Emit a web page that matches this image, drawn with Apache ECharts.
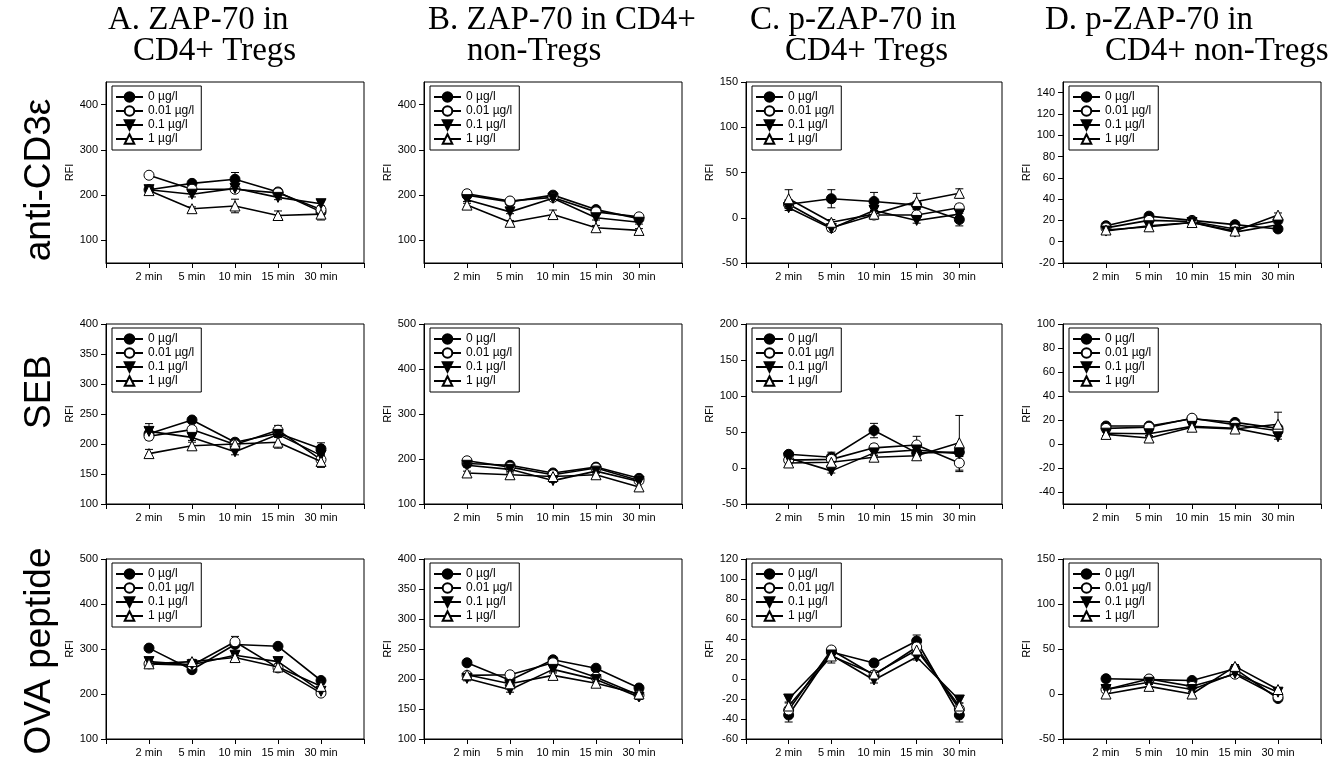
<!DOCTYPE html>
<html><head><meta charset="utf-8">
<script src="https://cdn.jsdelivr.net/npm/echarts@6/dist/echarts.min.js"></script>
<style>html,body{margin:0;padding:0;background:#fff}#c{width:1335px;height:763px}</style>
</head><body><div id="c"></div>
<script>
// ---------- DATA ----------
const timePoints = ['2 min', '5 min', '10 min', '15 min', '30 min'];
const doseNames = ['0 µg/l', '0.01 µg/l', '0.1 µg/l', '1 µg/l'];
const columnTitles = [['A. ZAP-70 in', 'CD4+ Tregs'], ['B. ZAP-70 in CD4+', 'non-Tregs'], ['C. p-ZAP-70 in', 'CD4+ Tregs'], ['D. p-ZAP-70 in', 'CD4+ non-Tregs']];
const rowTitles = ['anti-CD3ε', 'SEB', 'OVA peptide'];

// values: one row per dose (0, 0.01, 0.1, 1 µg/l), one column per time point
const A1_vals = [[212, 226, 235, 207, 163], [244, 213, 213, 205, 168], [212, 202, 215, 195, 181], [210, 170, 176, 155, 158]];
const A1_errs = [[5, 5, 15, 6, 6], [4, 5, 6, 5, 8], [5, 6, 6, 5, 5], [5, 4, 15, 10, 13]];
const B1_vals = [[200, 185, 200, 168, 148], [203, 187, 195, 163, 152], [190, 163, 193, 150, 140], [178, 140, 157, 128, 122]];
const B1_errs = [[4, 4, 5, 5, 5], [4, 3, 4, 5, 4], [4, 4, 4, 5, 4], [4, 4, 10, 5, 4]];
const C1_vals = [[15, 21, 18, 14, -2], [15, -11, 3, 3, 11], [11, -12, 8, -3, 4], [21, -5, 4, 18, 27]];
const C1_errs = [[5, 10, 10, 4, 7], [4, 3, 5, 3, 4], [3, 3, 3, 3, 3], [10, 3, 3, 9, 5]];
const D1_vals = [[15, 24, 20, 16, 12], [13, 20, 19, 12, 20], [10, 15, 18, 9, 16], [11, 14, 18, 10, 25]];
const D1_errs = [[2, 2, 2, 2, 2], [2, 2, 2, 2, 2], [2, 2, 2, 2, 2], [2, 2, 2, 2, 2]];

const A2_vals = [[217, 240, 203, 218, 192], [213, 224, 199, 223, 174], [221, 211, 187, 216, 181], [184, 197, 200, 203, 171]];
const A2_errs = [[5, 4, 5, 4, 10], [6, 5, 4, 8, 5], [13, 5, 5, 5, 6], [7, 6, 4, 10, 10]];
const B2_vals = [[190, 186, 169, 182, 157], [196, 182, 165, 180, 152], [186, 177, 152, 173, 150], [169, 165, 161, 165, 138]];
const B2_errs = [[4, 4, 4, 4, 4], [4, 4, 4, 4, 4], [4, 4, 4, 4, 4], [4, 4, 4, 4, 8]];
const C2_vals = [[19, 15, 52, 21, 22], [11, 12, 28, 32, 7], [14, -4, 21, 25, 20], [7, 8, 15, 17, 35]];
const C2_errs = [[4, 7, 10, 5, 5], [3, 4, 5, 12, 12], [3, 3, 4, 4, 4], [3, 3, 3, 3, 38]];
const D2_vals = [[15, 15, 21, 18, 13], [13, 14, 21.5, 16, 11], [9, 8.5, 14.7, 13, 6], [8, 5, 14, 12.5, 16.5]];
const D2_errs = [[2, 2, 2, 2, 2], [2, 2, 2, 2, 2], [2, 2, 2, 2, 2], [2, 2, 2, 2, 10]];

const A3_vals = [[302, 254, 310, 306, 230], [267, 264, 316, 258, 202], [272, 265, 286, 272, 206], [267, 272, 281, 260, 217]];
const A3_errs = [[5, 5, 5, 5, 5], [5, 5, 12, 5, 5], [5, 5, 5, 5, 5], [5, 5, 8, 5, 5]];
const B3_vals = [[227, 198, 232, 218, 185], [206, 207, 227, 203, 173], [201, 182, 216, 199, 170], [207, 192, 206, 193, 175]];
const B3_errs = [[4, 4, 4, 4, 4], [4, 4, 4, 4, 4], [4, 4, 4, 4, 4], [4, 4, 4, 4, 4]];
const C3_vals = [[-36, 27, 16, 38, -36], [-31, 29, 4, 32, -30], [-20, 24, -1, 22, -21], [-27, 23, 5, 29, -27]];
const C3_errs = [[7, 3, 3, 6, 7], [3, 3, 3, 3, 3], [3, 3, 3, 3, 3], [3, 7, 3, 3, 3]];
const D3_vals = [[17, 16, 15, 28, -5], [5, 16.7, 8.5, 22, -3], [5, 13, 5, 23, 2], [0, 8.5, 0, 30.7, 5]];
const D3_errs = [[2, 2, 2, 2, 2], [2, 2, 2, 2, 2], [2, 2, 2, 2, 2], [2, 2, 2, 2, 2]];

// y-axis tick labels per panel
const A1_ticks = [100, 200, 300, 400];
const B1_ticks = [100, 200, 300, 400];
const C1_ticks = [-50, 0, 50, 100, 150];
const D1_ticks = [-20, 0, 20, 40, 60, 80, 100, 120, 140];
const A2_ticks = [100, 150, 200, 250, 300, 350, 400];
const B2_ticks = [100, 200, 300, 400, 500];
const C2_ticks = [-50, 0, 50, 100, 150, 200];
const D2_ticks = [-40, -20, 0, 20, 40, 60, 80, 100];
const A3_ticks = [100, 200, 300, 400, 500];
const B3_ticks = [100, 150, 200, 250, 300, 350, 400];
const C3_ticks = [-60, -40, -20, 0, 20, 40, 60, 80, 100, 120];
const D3_ticks = [-50, 0, 50, 100, 150];

// ---------- LAYOUT ----------
const colLeft = [106, 424, 746, 1063];
const colWidth = [258, 258, 256, 258];
const rowTop = [82, 324, 559];
const rowHeight = [181, 180, 180];
const panels = [
  { r: 0, c: 0, v: A1_vals, e: A1_errs, t: A1_ticks, min: 50, max: 450 },
  { r: 0, c: 1, v: B1_vals, e: B1_errs, t: B1_ticks, min: 50, max: 450 },
  { r: 0, c: 2, v: C1_vals, e: C1_errs, t: C1_ticks, min: -50, max: 150 },
  { r: 0, c: 3, v: D1_vals, e: D1_errs, t: D1_ticks, min: -20, max: 150 },
  { r: 1, c: 0, v: A2_vals, e: A2_errs, t: A2_ticks, min: 100, max: 400 },
  { r: 1, c: 1, v: B2_vals, e: B2_errs, t: B2_ticks, min: 100, max: 500 },
  { r: 1, c: 2, v: C2_vals, e: C2_errs, t: C2_ticks, min: -50, max: 200 },
  { r: 1, c: 3, v: D2_vals, e: D2_errs, t: D2_ticks, min: -50, max: 100 },
  { r: 2, c: 0, v: A3_vals, e: A3_errs, t: A3_ticks, min: 100, max: 500 },
  { r: 2, c: 1, v: B3_vals, e: B3_errs, t: B3_ticks, min: 100, max: 400 },
  { r: 2, c: 2, v: C3_vals, e: C3_errs, t: C3_ticks, min: -60, max: 120 },
  { r: 2, c: 3, v: D3_vals, e: D3_errs, t: D3_ticks, min: -50, max: 150 }
];

const FONT = 'Liberation Sans, Arial, sans-serif';
const downTri = 'path://M0,0L10,0L5,9Z';
const doseStyles = [
  { symbol: 'circle', itemStyle: { color: '#000', borderColor: '#000', borderWidth: 1 } },
  { symbol: 'circle', itemStyle: { color: '#fff', borderColor: '#000', borderWidth: 1 } },
  { symbol: downTri, itemStyle: { color: '#000', borderColor: '#000', borderWidth: 1 } },
  { symbol: 'triangle', itemStyle: { color: '#fff', borderColor: '#000', borderWidth: 1 } }
];

const grids = [], xAxes = [], yAxes = [], series = [], legends = [], graphics = [];

function errRender(params, api) {
  const x = api.value(0), lo = api.value(1), hi = api.value(2);
  const p1 = api.coord([x, hi]), p2 = api.coord([x, lo]);
  const w = 4;
  const st = { stroke: '#000', lineWidth: 1 };
  return { type: 'group', children: [
    { type: 'line', shape: { x1: p1[0], y1: p1[1], x2: p2[0], y2: p2[1] }, style: st },
    { type: 'line', shape: { x1: p1[0] - w, y1: p1[1], x2: p1[0] + w, y2: p1[1] }, style: st },
    { type: 'line', shape: { x1: p2[0] - w, y1: p2[1], x2: p2[0] + w, y2: p2[1] }, style: st }
  ] };
}

panels.forEach((p, i) => {
  const left = colLeft[p.c], top = rowTop[p.r], w = colWidth[p.c], h = rowHeight[p.r];
  grids.push({ left: left, top: top, width: w, height: h, show: true, borderColor: '#000', borderWidth: 1, backgroundColor: 'transparent' });
  xAxes.push({
    type: 'value', gridIndex: i, min: 0, max: 6, interval: 1,
    axisLine: { show: true, onZero: false, lineStyle: { color: '#000', width: 1 } },
    axisTick: { show: true, inside: false, length: 5, lineStyle: { color: '#000' } },
    axisLabel: { margin: 8, color: '#000', fontSize: 11, fontFamily: FONT, formatter: v => timePoints[v - 1] || '' },
    splitLine: { show: false }
  });
  yAxes.push({
    type: 'value', gridIndex: i, min: p.min, max: p.max,
    name: 'RFI', nameLocation: 'middle', nameGap: 31, nameRotate: 90,
    nameTextStyle: { fontSize: 11, color: '#000', fontFamily: FONT },
    axisLine: { show: true, onZero: false, lineStyle: { color: '#000', width: 1 } },
    axisTick: { show: true, inside: false, length: 5, customValues: p.t, lineStyle: { color: '#000' } },
    axisLabel: { margin: 8, color: '#000', fontSize: 11, fontFamily: FONT, customValues: p.t },
    splitLine: { show: false }
  });
  p.v.forEach((vals, k) => {
    series.push({
      type: 'custom', xAxisIndex: i, yAxisIndex: i, silent: true, z: 2,
      renderItem: errRender, encode: { x: 0, y: [1, 2] },
      data: vals.map((v, j) => [j + 1, v - p.e[k][j], v + p.e[k][j]])
    });
  });
  p.v.forEach((vals, k) => {
    series.push({
      type: 'line', name: doseNames[k], xAxisIndex: i, yAxisIndex: i, z: 3 + k,
      symbol: doseStyles[k].symbol, symbolSize: 10,
      lineStyle: { color: '#000', width: 1.6 },
      itemStyle: doseStyles[k].itemStyle,
      data: vals.map((v, j) => [j + 1, v])
    });
  });
  legends.push({
    orient: 'vertical', left: left + 6, top: top + 4, data: doseNames, selectedMode: false,
    itemWidth: 27, itemHeight: 12, itemGap: 2, padding: [5, 7, 5, 3],
    borderColor: '#000', borderWidth: 1, backgroundColor: '#fff',
    textStyle: { fontSize: 12, color: '#000', fontFamily: FONT }
  });
});

// column titles
const titleLine1X = [108, 428, 750, 1045];
const titleLine2X = [133, 467, 785, 1105];
const TFONT = '33px "Liberation Serif", "Times New Roman", serif';
columnTitles.forEach((t, c) => {
  graphics.push({ type: 'text', x: titleLine1X[c], y: 20, style: { text: t[0], font: TFONT, fill: '#000', textAlign: 'left', textVerticalAlign: 'middle' } });
  graphics.push({ type: 'text', x: titleLine2X[c], y: 51, style: { text: t[1], font: TFONT, fill: '#000', textAlign: 'left', textVerticalAlign: 'middle' } });
});
// row titles
const rowTitleY = [180, 392, 651];
rowTitles.forEach((t, r) => {
  graphics.push({ type: 'text', x: 40, y: rowTitleY[r], rotation: Math.PI / 2, style: { text: t, font: '37px "Liberation Sans", Arial, sans-serif', fill: '#000', textAlign: 'center', textVerticalAlign: 'middle' } });
});

const chart = echarts.init(document.getElementById('c'), null, { renderer: 'canvas' });
chart.setOption({
  animation: false,
  backgroundColor: '#fff',
  grid: grids, xAxis: xAxes, yAxis: yAxes, series: series, legend: legends, graphic: graphics
});
</script></body></html>
